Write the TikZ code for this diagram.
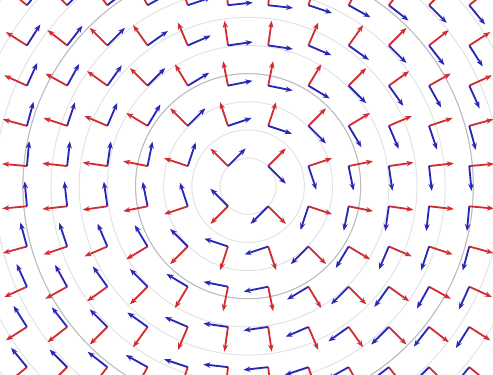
\documentclass[tikz,border=0pt]{standalone}
\usepackage{xcolor}
\usepackage{tikz}
\usetikzlibrary{arrows.meta}
\definecolor{radRed}{RGB}{210,45,50}
\definecolor{angBlue}{RGB}{40,40,180}
\definecolor{ringGray}{RGB}{226,226,226}
\definecolor{ringDark}{RGB}{188,188,188}

\begin{document}
\begin{tikzpicture}[
    radvec/.style={radRed,line width=1.3pt,-{Stealth[length=5pt,width=3.8pt]}},
    angvec/.style={angBlue,line width=1.3pt,-{Stealth[length=5pt,width=3.8pt]}}]
  % Frame
  \useasboundingbox (-6.17,-4.68) rectangle (6.09,4.63);
  \clip (-6.17,-4.68) rectangle (6.09,4.63);
  % Circles
  \foreach \k in {1,...,11}
    \draw[ringGray,line width=0.7pt] (0,0) circle ({0.7*\k});
  \foreach \k in {4,8}
    \draw[ringDark,line width=0.7pt] (0,0) circle ({0.7*\k});
  % Frame field
  \foreach \i in {-6,...,5}
    \foreach \j in {-5,...,4} {
      \pgfmathsetmacro{\px}{\i+0.5}
      \pgfmathsetmacro{\py}{\j+0.5}
      \pgfmathsetmacro{\th}{atan2(\py,\px)}
      \draw[radvec] (\px,\py) -- ++(\th:0.62);
      \draw[angvec] (\px,\py) -- ++(\th-90:0.62);
    }
\end{tikzpicture}
\end{document}
